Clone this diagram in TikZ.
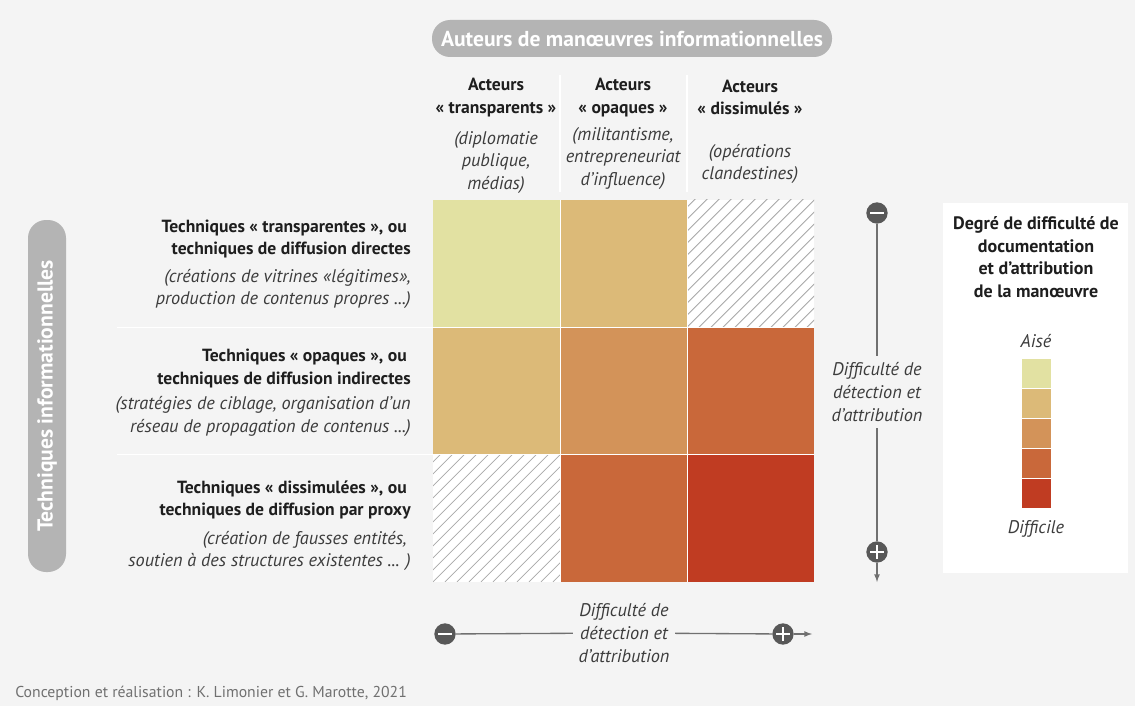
\documentclass[tikz,border=0pt]{standalone}
\usepackage{fontspec}
\setmainfont{PT Sans}
\usepackage{tikz}
\usetikzlibrary{positioning}
\definecolor{bggrey}{HTML}{F4F4F4}
\definecolor{pillgrey}{HTML}{B4B4B4}
\definecolor{textdark}{HTML}{1E1E1E}
\definecolor{textgrey}{HTML}{3C3C3C}
\definecolor{axisgrey}{HTML}{707070}
\definecolor{dotgrey}{HTML}{585858}
\definecolor{hatchgrey}{HTML}{A8A8A8}
\definecolor{levelone}{HTML}{E2E1A2}
\definecolor{leveltwo}{HTML}{DCBA78}
\definecolor{levelthree}{HTML}{D39359}
\definecolor{levelfour}{HTML}{C9683A}
\definecolor{levelfive}{HTML}{C03C22}

\begin{document}
\begin{tikzpicture}[x=0.75pt,y=-0.75pt,
	head/.style={font=\fontsize{13.2}{16.7}\selectfont\bfseries,text=textdark,align=center,inner sep=0pt},
	lefthead/.style={head,align=right,anchor=east},
	note/.style={font=\fontsize{13.7}{16.9}\selectfont\itshape,text=textgrey,align=center,inner sep=0pt},
	leftnote/.style={note,align=right,anchor=east},
	pill/.style={fill=pillgrey,rounded corners=13.5pt,text=white,font=\fontsize{16.2}{18}\selectfont\bfseries,inner sep=0pt},
	axis/.style={draw=axisgrey,line width=1pt},
	hatch/.style={draw=hatchgrey,line width=0.6pt},
	dot/.style={circle,fill=dotgrey,minimum size=16pt,inner sep=0pt},
	minusdot/.style={dot,path picture={\draw[white,line width=1.6pt] ([xshift=3pt]path picture bounding box.west) -- ([xshift=-3pt]path picture bounding box.east);}},
	plusdot/.style={dot,path picture={\draw[white,line width=1.6pt] ([xshift=3pt]path picture bounding box.west) -- ([xshift=-3pt]path picture bounding box.east) ([yshift=-3pt]path picture bounding box.north) -- ([yshift=3pt]path picture bounding box.south);}}]
	\path[use as bounding box,fill=bggrey] (0,0) rectangle (1135,706);
	% pills
	\node[pill,minimum width=300pt,minimum height=27.75pt] (auteurs) at (632,38.5) {Auteurs de manœuvres informationnelles};
	\node[pill,rotate=90,minimum width=264pt,minimum height=28.5pt] (techniques) at (47,396) {Techniques informationnelles};
	% faint separators
	\draw[white,line width=0.8pt] (560,75) -- (560,192) (687,75) -- (687,192);
	\draw[white,line width=0.8pt] (117,327.3) -- (433,327.3) (117,454.6) -- (433,454.6);
	% column heads
	\node[head] (colA) at (496,97.5) {Acteurs\\«~transparents~»};
	\node[head] (colB) at (623,97.5) {Acteurs\\«~opaques~»};
	\node[head] (colC) at (750,97.5) {Acteurs\\«~dissimulés~»};
	\node[note] (colAnote) at (496,162.5) {(diplomatie\\publique,\\médias)};
	\node[note] (colBnote) at (623,158.5) {(militantisme,\\entrepreneuriat\\d’influence)};
	\node[note] (colCnote) at (750,164) {(opérations\\clandestines)};
	% row heads
	\node[lefthead] (rowA) at (411,239) {Techniques «~transparentes~», ou\hspace*{3pt}\\techniques de diffusion directes};
	\node[leftnote] (rowAnote) at (411,289) {(créations de vitrines «légitimes»,\\production de contenus propres ...)};
	\node[lefthead] (rowB) at (411,368.5) {Techniques «~opaques~», ou\hspace*{3pt}\\techniques de diffusion indirectes};
	\node[leftnote] (rowBnote) at (411,416.5) {(stratégies de ciblage, organisation d’un\\réseau de propagation de contenus ...)};
	\node[lefthead] (rowC) at (411,500) {Techniques «~dissimulées~», ou\hspace*{3pt}\\techniques de diffusion par proxy};
	\node[leftnote] (rowCnote) at (411,551) {(création de fausses entités,\hspace*{3pt}\\soutien à des structures existentes ... )};
	% cells
	\foreach \col/\row/\shade in {0/0/levelone,1/0/leveltwo,0/1/leveltwo,1/1/levelthree,2/1/levelfour,1/2/levelfour,2/2/levelfive}
		\fill[\shade] (433+127*\col,200+127.3*\row) rectangle ++(127,127.3);
	\foreach \hx/\hy in {687/200,433/454.6}{
		\begin{scope}
			\clip (\hx,\hy) rectangle ++(127,127.3);
			\fill[white] (\hx,\hy) rectangle ++(127,127.3);
			\foreach \i in {-132,-120,...,132}
				\draw[hatch] (\hx+\i,\hy+127.3) -- ++(132,-132);
		\end{scope}
	}
	\draw[white,line width=0.7pt] (560,200) -- (560,582) (687,200) -- (687,582) (433,327.3) -- (814,327.3) (433,454.6) -- (814,454.6);
	% vertical axis
	\node[minusdot] (vminus) at (877,213) {};
	\node[note,inner ysep=5pt] (vlabel) at (877,392) {Difficulté de\\détection et\\d’attribution};
	\node[plusdot] (vplus) at (877,552) {};
	\coordinate (vend) at (877,582);
	\draw[axis] (vminus) -- (vlabel);
	\draw[axis] (vlabel) -- (vplus);
	\draw[axis,-latex] (vplus) -- (vend);
	% horizontal axis
	\node[minusdot] (hminus) at (445,634) {};
	\node[note,inner xsep=4pt] (hlabel) at (624,633) {Difficulté de\\détection et\\d’attribution};
	\node[plusdot] (hplus) at (783,634) {};
	\coordinate (hend) at (812,634);
	\draw[axis] (hminus) -- (hlabel);
	\draw[axis] (hlabel) -- (hplus);
	\draw[axis,-latex] (hplus) -- (hend);
	% legend
	\fill[white] (943,203) rectangle (1128,573);
	\node[head,font=\fontsize{13.5}{17}\selectfont\bfseries] (legtitle) at (1036,257) {Degré de difficulté de\\documentation\\et d’attribution\\de la manœuvre};
	\foreach \shade [count=\k from 0] in {levelone,leveltwo,levelthree,levelfour,levelfive}
		\fill[\shade] (1022,359+29.8*\k) rectangle ++(29,29.8);
	\foreach \k in {1,2,3,4}
		\draw[white,line width=0.6pt] (1022,359+29.8*\k) -- ++(29,0);
	\node[note] (easy) at (1036,341) {Aisé};
	\node[note] (hard) at (1036,529) {Difficile};
	% credit
	\node[anchor=west,inner sep=0pt,font=\fontsize{11.8}{14}\selectfont,text=axisgrey] (credit) at (15,693) {Conception et réalisation : K. Limonier et G. Marotte, 2021};
\end{tikzpicture}
\end{document}
